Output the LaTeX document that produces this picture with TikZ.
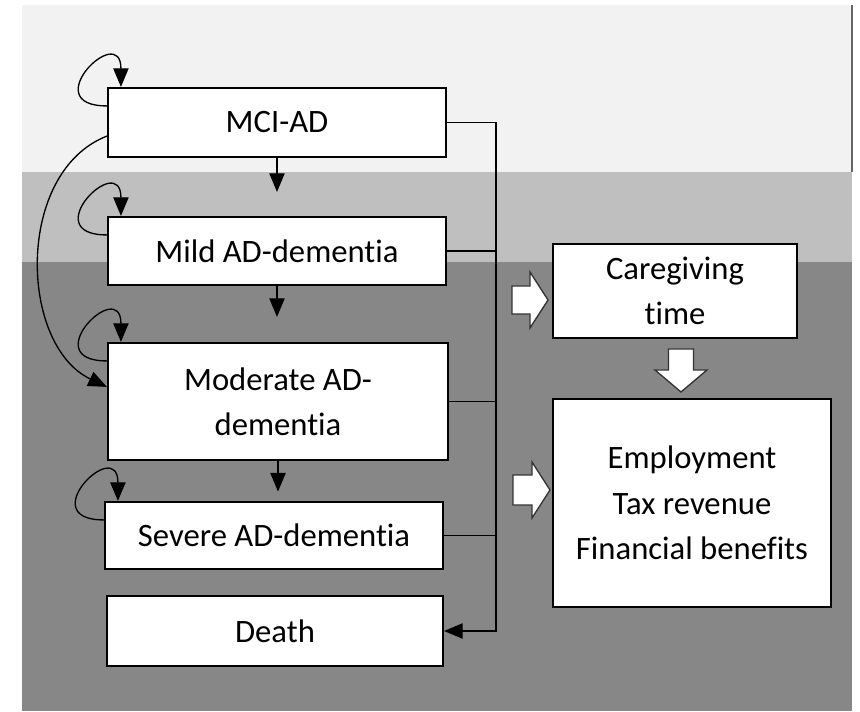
\documentclass[tikz,border=0pt]{standalone}
\usepackage{fontspec}
\setmainfont{Carlito}[Ligatures=NoCommon]
\usepackage{xcolor}
\definecolor{bandlight}{HTML}{F2F2F2}
\definecolor{bandmid}{HTML}{BFBFBF}
\definecolor{banddark}{HTML}{878787}
\usetikzlibrary{arrows.meta,calc}
\newcommand{\pxu}{0.75pt}
\tikzset{
	stagebox/.style={draw, fill=white, line width=1.6pt, align=center, inner sep=0pt, font=\fontsize{24.5}{34}\selectfont},
	effectbox/.style={draw, fill=white, line width=1.1pt, align=center, inner sep=0pt, font=\fontsize{24.5}{34}\selectfont},
	arr/.style={-{Triangle[length=14pt,width=11.5pt]}, line width=1pt},
	busline/.style={line width=1pt},
	fatarrow/.style={draw=black!80, fill=white, line width=1pt, line join=miter}
}

\begin{document}
\begin{tikzpicture}[x=0.75pt,y=0.75pt]
	\useasboundingbox (0,0) rectangle (860,711);
	% background bands
	\fill [bandlight] (22,706) rectangle (852,539);
	\fill [bandmid] (22,539) rectangle (852,449);
	\fill [banddark] (22,449) rectangle (852,0);
	\draw [black!60, line width=0.8pt] (852,706) -- (852,539);
	% disease stages
	\node [stagebox, minimum width=338*\pxu, minimum height=69*\pxu] (mci) at (277,588.5) {MCI-AD};
	\node [stagebox, minimum width=338*\pxu, minimum height=68*\pxu] (mild) at (277,460) {Mild AD-dementia};
	\node [stagebox, minimum width=340*\pxu, minimum height=117*\pxu] (moderate) at (278,309.5) {Moderate AD-\\dementia};
	\node [stagebox, minimum width=338*\pxu, minimum height=67*\pxu] (severe) at (274,175.5) {Severe AD-dementia};
	\node [stagebox, minimum width=336*\pxu, minimum height=70*\pxu] (death) at (275,80) {Death};
	% outcomes
	\node [effectbox, minimum width=244*\pxu, minimum height=94*\pxu] (care) at (675,420) {Caregiving\\time};
	\node [effectbox, minimum width=278*\pxu, minimum height=208*\pxu] (econ) at (692,208) {Employment\\Tax revenue\\Financial benefits};
	% progression
	\draw [arr, shorten >=18pt] (mci.south) -- (mci.south |- mild.north);
	\draw [arr, shorten >=18.75pt] (mild.south) -- (mild.south |- moderate.north);
	\draw [arr, shorten >=7pt] (moderate.south) -- (moderate.south |- severe.north);
	\foreach \stg in {mci,mild,moderate,severe}
	{
		\draw [arr] ([yshift=-19*\pxu]\stg.north west) .. controls +(-72,0) and +(0,66) .. ([xshift=14*\pxu]\stg.north west);
	}
	\draw [arr] ([yshift=22*\pxu]mci.south west) .. controls +(-92,-36) and +(-88,42) .. ([yshift=-45*\pxu]moderate.north west);
	% to death
	\coordinate (bus) at (496,0);
	\draw [arr] (mci.east) -| (bus |- death.east) -- (death.east);
	\foreach \stg in {mild,moderate,severe}
		\draw [busline] (\stg.east) -- (\stg.east -| bus);
	% block arrows
	\draw [fatarrow] (512,397) -- ++(18,0) -- ++(0,-14) -- ++(18,28) -- ++(-18,28) -- ++(0,-14) -- ++(-18,0) -- cycle;
	\draw [fatarrow] (513,206) -- ++(19,0) -- ++(0,-13) -- ++(18,28) -- ++(-18,28) -- ++(0,-13) -- ++(-19,0) -- cycle;
	\draw [fatarrow] (668.5,362) -- ++(0,-21) -- ++(-13.5,0) -- ++(26,-22) -- ++(26,22) -- ++(-13.5,0) -- ++(0,21) -- cycle;
\end{tikzpicture}
\end{document}
